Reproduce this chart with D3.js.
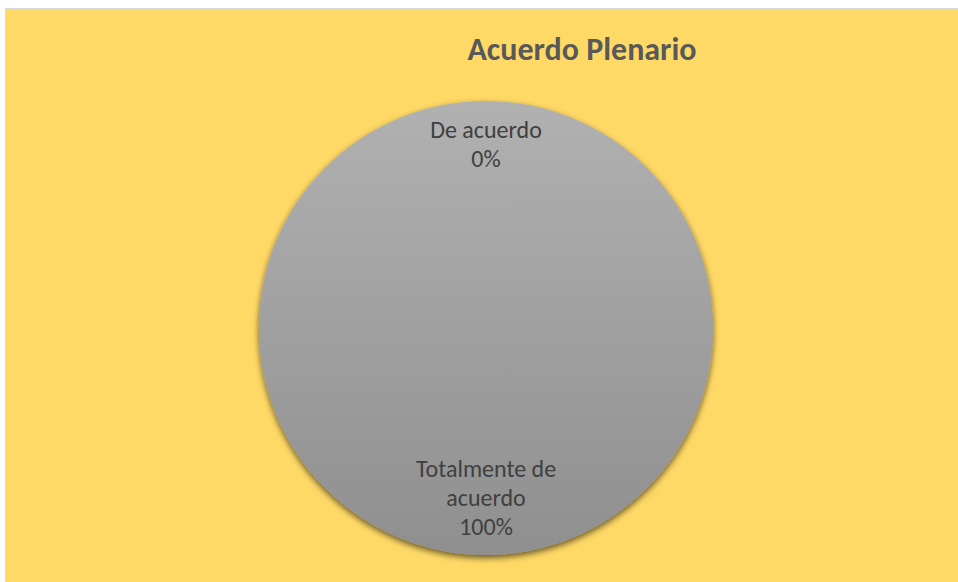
<!DOCTYPE html>
<html>
<head>
<meta charset="utf-8">
<script src="https://cdn.jsdelivr.net/npm/d3@7"></script>
<style>
  html, body { margin: 0; padding: 0; background: #fff; }
  svg { display: block; font-family: Carlito, "Open Sans", "Noto Sans", sans-serif; }
</style>
</head>
<body>
<svg width="958" height="582"></svg>
<script>
// chart data
const title = 'Acuerdo Plenario';
const categories = ['De acuerdo', 'Totalmente de acuerdo'];
const values = [0, 100];
// how Excel wrapped each label
const labelLines = [['De acuerdo'], ['Totalmente de', 'acuerdo']];

const svg = d3.select('svg');
const W = +svg.attr('width'), H = +svg.attr('height');

const defs = svg.append('defs');
const grad = defs.append('linearGradient')
  .attr('id', 'pieFill')
  .attr('x1', 0).attr('y1', 0).attr('x2', 0).attr('y2', 1);
grad.append('stop').attr('offset', '0%').attr('stop-color', '#b1b1b1');
grad.append('stop').attr('offset', '100%').attr('stop-color', '#8f8f8f');

const shadow = defs.append('filter')
  .attr('id', 'shadow')
  .attr('x', '-10%').attr('y', '-10%').attr('width', '120%').attr('height', '125%');
shadow.append('feDropShadow')
  .attr('dx', 0).attr('dy', 3)
  .attr('stdDeviation', 3)
  .attr('flood-color', '#000')
  .attr('flood-opacity', 0.6);

// chart area (frame)
svg.append('rect')
  .attr('x', 5.5).attr('y', 8.5)
  .attr('width', W).attr('height', H)
  .attr('fill', '#ffd966')
  .attr('stroke', '#d9d9d9');

svg.append('text')
  .attr('x', 582).attr('y', 60)
  .attr('text-anchor', 'middle')
  .attr('font-size', 32)
  .attr('font-weight', 'bold')
  .attr('fill', '#595959')
  .text(title);

const cx = 486, cy = 328, r = 227;
const pie = d3.pie().sort(null).value(d => d);
const arcs = pie(values);
const arc = d3.arc().innerRadius(0).outerRadius(r);

const g = svg.append('g').attr('transform', `translate(${cx},${cy})`);

g.selectAll('path.slice')
  .data(arcs)
  .join('path')
  .attr('class', 'slice')
  .attr('d', arc)
  .attr('fill', 'url(#pieFill)')
  .attr('filter', 'url(#shadow)');

// labels: text block placed inside the pie, its outer edge near the rim
const fs = 24, lh = 28.8, edge = r - 14;
const fmt = d3.format('.0%');
const total = d3.sum(values);

arcs.forEach((a, i) => {
  const lines = labelLines[i].concat([fmt(values[i] / total)]);
  const mid = (a.startAngle + a.endAngle) / 2;
  const dx = Math.sin(mid), dy = -Math.cos(mid);
  const blockH = lines.length * lh;
  const bx = dx * edge;
  const by = dy * edge - dy * blockH / 2 + 2;
  const t = g.append('text')
    .attr('text-anchor', 'middle')
    .attr('font-size', fs)
    .attr('fill', '#404040');
  lines.forEach((s, j) => {
    t.append('tspan')
      .attr('x', bx)
      .attr('y', by - blockH / 2 + lh * j + lh * 0.72)
      .text(s);
  });
});
</script>
</body>
</html>
